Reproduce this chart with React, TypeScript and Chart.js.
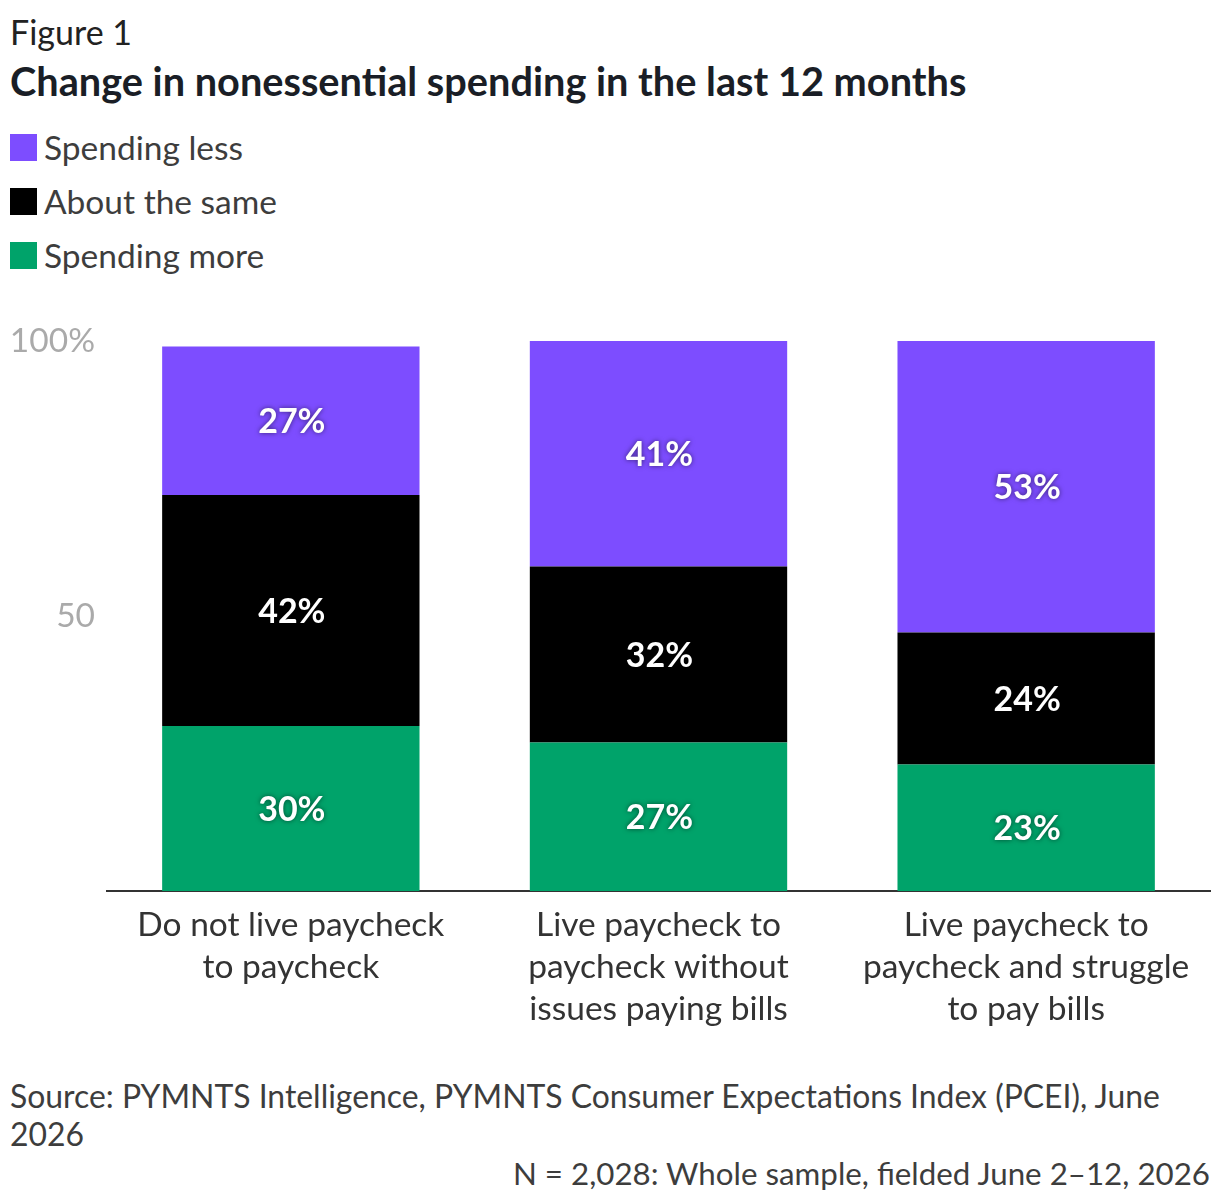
import React, { useEffect, useRef } from "react";
import { Chart, registerables } from "chart.js";

Chart.register(...registerables);

const categories: string[][] = [
  ["Do not live paycheck", "to paycheck"],
  ["Live paycheck to", "paycheck without", "issues paying bills"],
  ["Live paycheck to", "paycheck and struggle", "to pay bills"],
];
const spendingMore = [30, 27, 23];
const aboutSame = [42, 32, 24];
const spendingLess = [27, 41, 53];
const yTickLabels: Record<number, string> = { 100: "100%", 50: "50" };

const seriesNames = ["Spending less", "About the same", "Spending more"];
const colors = { less: "#7d4dff", same: "#000000", more: "#00a36a" };

const FONT = "Lato, 'Noto Sans', sans-serif";

const valueLabels = {
  id: "valueLabels",
  afterDatasetsDraw(chart: any) {
    const ctx = chart.ctx;
    ctx.save();
    ctx.font = `bold 34px ${FONT}`;
    ctx.fillStyle = "#ffffff";
    ctx.textAlign = "center";
    ctx.textBaseline = "middle";
    ctx.shadowColor = "rgba(0,0,0,0.55)";
    ctx.shadowBlur = 5;
    chart.data.datasets.forEach((ds: any, di: number) => {
      const meta = chart.getDatasetMeta(di);
      meta.data.forEach((el: any, i: number) => {
        const p = el.getProps(["x", "y", "base"], true);
        ctx.fillText(`${ds.data[i]}%`, p.x + 1, (p.y + p.base) / 2 + 1.5);
      });
    });
    ctx.restore();
  },
};

export default function App() {
  const ref = useRef<HTMLCanvasElement>(null);

  useEffect(() => {
    if (!ref.current) return;
    const chart = new Chart(ref.current, {
      type: "bar",
      data: {
        labels: categories,
        datasets: [
          { label: "Spending more", data: spendingMore, backgroundColor: colors.more },
          { label: "About the same", data: aboutSame, backgroundColor: colors.same },
          { label: "Spending less", data: spendingLess, backgroundColor: colors.less },
        ],
      },
      options: {
        animation: false,
        responsive: false,
        devicePixelRatio: 1,
        layout: { padding: { top: 41, right: 10, left: 0, bottom: 0 } },
        plugins: {
          legend: { display: false },
          tooltip: { enabled: false },
        },
        datasets: {
          bar: { barPercentage: 0.7, categoryPercentage: 1, borderWidth: 0 },
        },
        scales: {
          x: {
            stacked: true,
            grid: { display: false, drawTicks: false },
            border: { display: true, color: "#333333", width: 2 },
            ticks: {
              color: "#333333",
              font: { family: FONT, size: 33.5, lineHeight: 42 / 33.5 },
              padding: 13,
              maxRotation: 0,
              autoSkip: false,
            },
            afterFit: (s: any) => {
              s.height = 149;
            },
          },
          y: {
            stacked: true,
            min: 0,
            max: 100,
            grid: { display: false, drawTicks: false },
            border: { display: false },
            ticks: {
              stepSize: 50,
              color: "#aaaaaa",
              padding: 12,
              font: { family: FONT, size: 33.5 },
              callback: (v: any) => yTickLabels[v as number] ?? "",
            },
            afterFit: (s: any) => {
              s.width = 107;
            },
          },
        },
      },
      plugins: [valueLabels],
    });
    return () => chart.destroy();
  }, []);

  const legendColors = [colors.less, colors.same, colors.more];

  return (
    <div
      style={{
        position: "absolute",
        left: 0,
        top: 0,
        width: 1220,
        height: 1202,
        background: "#fff",
        fontFamily: FONT,
        overflow: "hidden",
      }}
    >
      <div style={{ position: "absolute", left: 10, top: 12, fontSize: 34, color: "#222", lineHeight: "40px" }}>
        Figure 1
      </div>
      <div
        style={{
          position: "absolute",
          left: 10,
          top: 58,
          fontSize: 39.7,
          fontWeight: 700,
          color: "#1a1e26",
          lineHeight: "46px",
          whiteSpace: "nowrap",
        }}
      >
        Change in nonessential spending in the last 12 months
      </div>
      {seriesNames.map((n, i) => (
        <div
          key={n}
          style={{
            position: "absolute",
            left: 10,
            top: 127 + i * 54,
            height: 40,
            display: "flex",
            alignItems: "center",
            fontSize: 33.5,
            color: "#3d3d3d",
            whiteSpace: "nowrap",
          }}
        >
          <span
            style={{
              display: "inline-block",
              width: 27,
              height: 27,
              background: legendColors[i],
              marginRight: 7,
            }}
          />
          <span style={{ lineHeight: "40px" }}>{n}</span>
        </div>
      ))}
      <canvas
        ref={ref}
        width={1220}
        height={740}
        style={{ position: "absolute", left: 0, top: 300, width: 1220, height: 740 }}
      />
      <div
        style={{
          position: "absolute",
          left: 10,
          top: 1077,
          width: 1190,
          fontSize: 31.9,
          color: "#3d3d3d",
          lineHeight: "38px",
        }}
      >
        Source: PYMNTS Intelligence, PYMNTS Consumer Expectations Index (PCEI), June 2026
      </div>
      <div
        style={{
          position: "absolute",
          right: 10,
          top: 1154,
          fontSize: 31.3,
          color: "#3d3d3d",
          lineHeight: "38px",
          whiteSpace: "nowrap",
        }}
      >
        N = 2,028: Whole sample, fielded June 2–12, 2026
      </div>
    </div>
  );
}
